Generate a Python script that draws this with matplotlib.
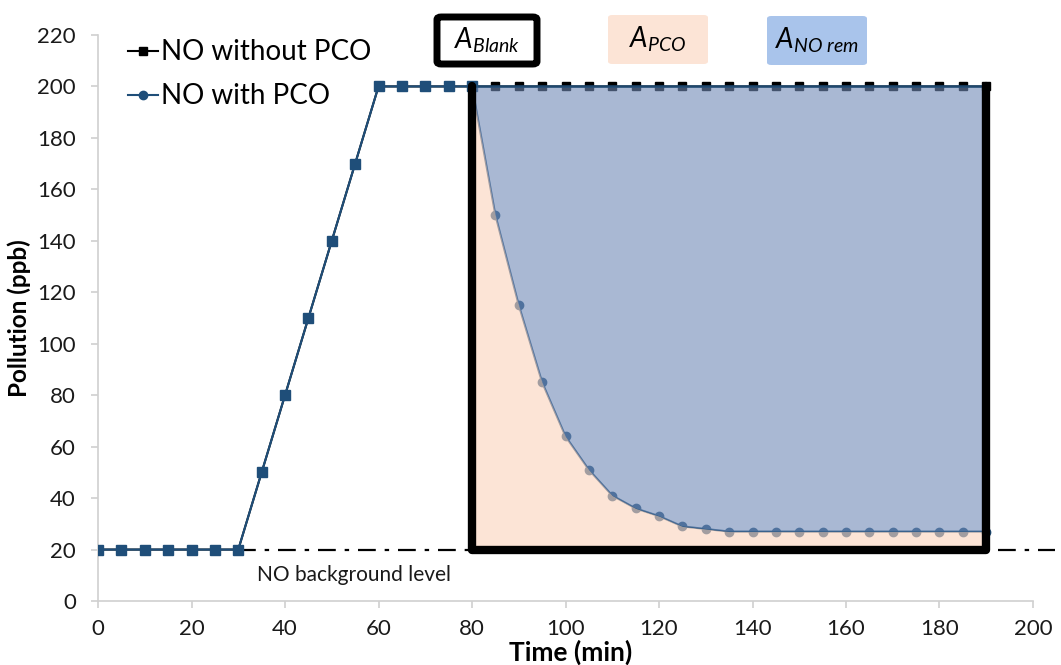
import matplotlib
matplotlib.use("Agg")
import matplotlib.pyplot as plt
from matplotlib.patches import FancyBboxPatch

plt.rcParams["font.family"] = ["Lato", "DejaVu Sans"]
plt.rcParams["mathtext.fontset"] = "custom"
plt.rcParams["mathtext.it"] = "Lato:italic"
plt.rcParams["mathtext.rm"] = "Lato"

# data
time = [0, 5, 10, 15, 20, 25, 30, 35, 40, 45, 50, 55, 60, 65, 70, 75, 80,
        85, 90, 95, 100, 105, 110, 115, 120, 125, 130, 135, 140, 145, 150,
        155, 160, 165, 170, 175, 180, 185, 190]
no_without = [20, 20, 20, 20, 20, 20, 20, 50, 80, 110, 140, 170, 200, 200, 200, 200, 200,
              200, 200, 200, 200, 200, 200, 200, 200, 200, 200, 200, 200, 200, 200,
              200, 200, 200, 200, 200, 200, 200, 200]
no_with = [20, 20, 20, 20, 20, 20, 20, 50, 80, 110, 140, 170, 200, 200, 200, 200, 200,
           150, 115, 85, 64, 51, 41, 36, 33, 29, 28, 27, 27, 27, 27,
           27, 27, 27, 27, 27, 27, 27, 27]
background = 20
pco_start = 80
pco_end = 190
peak = 200

navy = "#1f4e79"
peach = "#fad2bb"
blue = "#708ab6"

fig = plt.figure(figsize=(10.61, 6.65), dpi=100)
ax = fig.add_axes([0.0924, 0.0962, 0.8812, 0.8512])

ax.plot(time, no_without, color="black", lw=1.5, marker="s", ms=6,
        label="NO without PCO", zorder=2)
ax.plot(time, no_with, color=navy, lw=1.5, marker="o", ms=6,
        label="NO with PCO", zorder=3)
# before the PCO phase the markers show as squares
ramp = [i for i, t in enumerate(time) if t <= pco_start]
ax.plot([time[i] for i in ramp], [no_with[i] for i in ramp], ls="none",
        marker="s", ms=6.5, color=navy, zorder=4)

# shaded areas
idx = [i for i, t in enumerate(time) if pco_start <= t <= pco_end]
tx = [time[i] for i in idx]
ty = [no_with[i] for i in idx]
ax.fill_between(tx, background, ty, color=peach, alpha=0.6, lw=0, zorder=5)
ax.fill_between(tx, ty, peak, facecolor=blue, alpha=0.6, edgecolor="none", zorder=5)
ax.plot([pco_start, pco_end, pco_end], [peak, peak, ty[-1]], color=navy, lw=2,
        alpha=0.8, zorder=6)

# blank rectangle
ax.plot([pco_start, pco_start, pco_end, pco_end], [peak, background, background, peak],
        color="black", lw=6, solid_joinstyle="round", solid_capstyle="round", zorder=7)

# background level
ax.plot([time[6], 204.7], [background, background], color="black", lw=1.6,
        ls=(0, (8, 4, 2, 4)), clip_on=False, zorder=1)
ax.text(34, 10, "NO background level", fontsize=15, va="center", ha="left", color="#1a1a1a")

ax.set_xlim(0, 200)
ax.set_ylim(0, 220)
ax.set_xticks(range(0, 201, 20))
ax.set_yticks(range(0, 221, 20))
for s in ["top", "right"]:
    ax.spines[s].set_visible(False)
for s in ["left", "bottom"]:
    ax.spines[s].set_color("#d0d0d0")
    ax.spines[s].set_linewidth(1.2)
ax.tick_params(axis="both", colors="#d0d0d0", labelcolor="#1a1a1a", labelsize=16,
               length=5, width=1.2)
ax.tick_params(axis="x", pad=8)
ax.tick_params(axis="y", pad=11)
ax.set_xlabel("Time (min)", fontsize=19, fontweight="bold", va="center")
ax.xaxis.set_label_coords(0.505, -0.09)
ax.set_ylabel("Pollution (ppb)", fontsize=17.5, fontweight="bold", va="center")
ax.yaxis.set_label_coords(-0.084, 0.5)

ax.legend(loc="upper left", bbox_to_anchor=(0.02, 1.012), frameon=False, fontsize=20,
          handlelength=1.1, handletextpad=0.1, labelspacing=0.65, borderaxespad=0)

# area labels above the plot
W, H = 1061.0, 665.0


def label_box(x0, y0, x1, y1, text, fc, ec=None, lw=0):
    box = FancyBboxPatch((x0 / W, 1 - y1 / H), (x1 - x0) / W, (y1 - y0) / H,
                         boxstyle="round,pad=0,rounding_size=0.004",
                         transform=fig.transFigure, facecolor=fc,
                         edgecolor=ec if ec else fc, lw=lw)
    fig.patches.append(box)
    fig.text((x0 + x1) / 2 / W, 1 - (y0 + y1) / 2 / H, text, fontsize=20,
             ha="center", va="center")


label_box(437, 17, 537, 64, r"$A_{Blank}$", "white", "black", 5)
label_box(608, 15, 708, 64, r"$A_{PCO}$", "#fce4d6")
label_box(767, 16, 867, 65, r"$A_{NO\ rem}$", "#a9c4eb")

fig.savefig("out.png", dpi=100)
